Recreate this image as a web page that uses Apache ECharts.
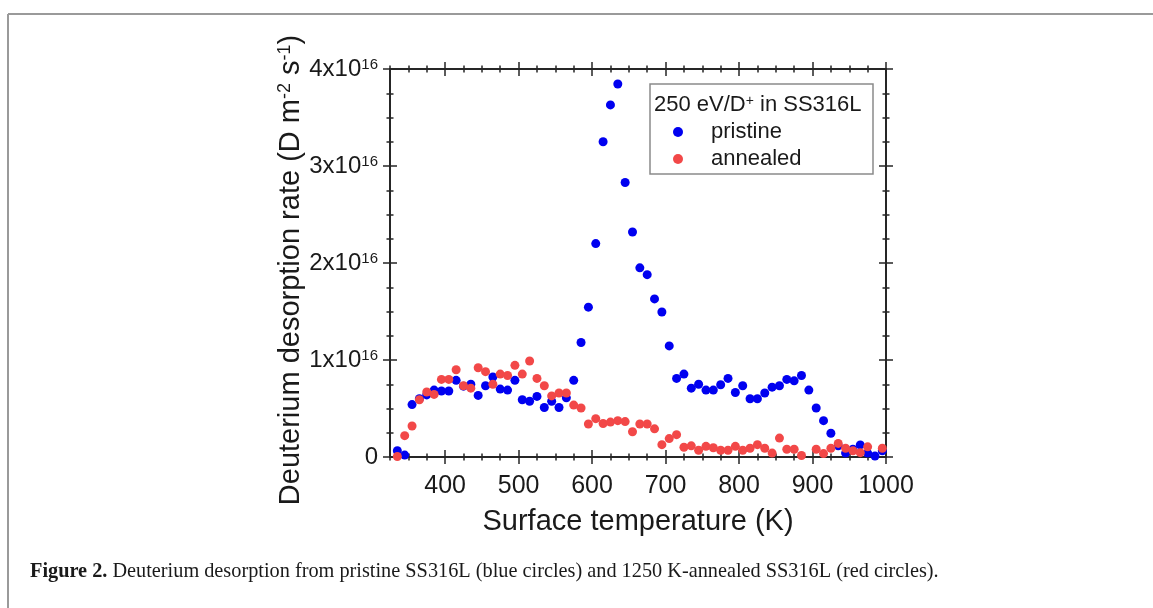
<!DOCTYPE html>
<html>
<head>
<meta charset="utf-8">
<script src="https://cdn.jsdelivr.net/npm/echarts@6/dist/echarts.min.js"></script>
<style>
html,body{margin:0;padding:0;background:#fff;}
#chart{width:1153px;height:608px;}
</style>
</head>
<body>
<div id="chart"></div>
<script>
// Temperatures (K)
const temperatureK = [335,345,355,365,375,385,395,405,415,425,
  435,445,455,465,475,485,495,505,515,525,
  535,545,555,565,575,585,595,605,615,625,
  635,645,655,665,675,685,695,705,715,725,
  735,745,755,765,775,785,795,805,815,825,
  835,845,855,865,875,885,895,905,915,925,
  935,945,955,965,975,985,995];
// Desorption rate, units of 1e16 D m^-2 s^-1
const pristine = [0.065,0.02,0.54,0.60,0.64,0.69,0.68,0.68,0.79,0.73,
  0.75,0.635,0.735,0.825,0.70,0.69,0.79,0.59,0.575,0.625,
  0.51,0.575,0.51,0.61,0.79,1.18,1.545,2.20,3.25,3.63,
  3.845,2.83,2.32,1.95,1.88,1.63,1.495,1.145,0.81,0.855,
  0.71,0.75,0.69,0.69,0.745,0.81,0.665,0.735,0.60,0.60,
  0.66,0.72,0.735,0.80,0.785,0.84,0.69,0.505,0.375,0.245,
  0.115,0.04,0.08,0.125,0.04,0.01,0.065];
const annealed = [0.005,0.22,0.32,0.59,0.67,0.645,0.80,0.80,0.90,0.735,
  0.71,0.92,0.88,0.75,0.855,0.84,0.945,0.855,0.99,0.81,
  0.735,0.63,0.66,0.66,0.535,0.505,0.34,0.395,0.345,0.36,
  0.375,0.365,0.26,0.34,0.34,0.29,0.127,0.19,0.23,0.10,
  0.115,0.07,0.11,0.095,0.07,0.07,0.11,0.07,0.09,0.127,
  0.09,0.04,0.195,0.08,0.08,0.015,null,0.08,0.035,0.09,
  0.14,0.09,0.065,0.045,0.105,null,0.09];
const xMajorTicks = [400,500,600,700,800,900,1000];
const seriesNames = ['pristine','annealed'];
const legendTitle = '250 eV/D{sup|+} in SS316L';
const xTitle = 'Surface temperature (K)';
const yTitle = 'Deuterium desorption rate (D m{sup|-2} s{sup|-1})';
const caption = '{b|Figure 2.} Deuterium desorption from pristine SS316L (blue circles) and 1250 K-annealed SS316L (red circles).';

const X_MIN = 325, X_MAX = 1000, Y_MIN = 0, Y_MAX = 4;
const FONT = 'Liberation Sans, Arial, sans-serif';
const AX = '#262626';

function pairs(ys){ const out=[]; temperatureK.forEach((t,i)=>{ if(ys[i]!==null) out.push([t, ys[i]]); }); return out; }

function xAxis(pos, major, inside, showLabel){
  const a = {type:'value', position:pos, min:X_MIN, max:X_MAX, scale:false,
    axisLine:{show:true, onZero:false, lineStyle:{color:AX, width:2}},
    splitLine:{show:false},
    axisTick:{show:true, inside:inside, length: major?7:3.5, lineStyle:{color:AX, width:1.5}},
    axisLabel:{show:false}};
  if(major){ a.axisTick.customValues = xMajorTicks; }
  else { a.interval = 25; }
  if(showLabel){
    a.axisLabel = {show:true, customValues:xMajorTicks, margin:17, color:'#1a1a1a', fontFamily:FONT, fontSize:25,
      formatter: v => String(v)};
    a.name = xTitle; a.nameLocation='middle'; a.nameGap=50;
    a.nameTextStyle = {color:'#1a1a1a', fontFamily:FONT, fontSize:29};
  }
  return a;
}
function yAxis(pos, major, inside, showLabel){
  const a = {type:'value', position:pos, min:Y_MIN, max:Y_MAX, interval: major?1:0.25,
    axisLine:{show:true, onZero:false, lineStyle:{color:AX, width:2}},
    splitLine:{show:false},
    axisTick:{show:true, inside:inside, length: major?7:3.5, lineStyle:{color:AX, width:1.5}},
    axisLabel:{show:false}};
  if(showLabel){
    a.axisLabel = {show:true, margin:12, color:'#1a1a1a', fontFamily:FONT, fontSize:24,
      formatter: v => v===0 ? '0' : Math.round(v)+'x10{sup|16}',
      rich:{sup:{fontSize:15, fontFamily:FONT, color:'#1a1a1a', verticalAlign:'top', lineHeight:15}}};
    a.name = yTitle; a.nameLocation='middle'; a.nameGap=84;
    a.nameTextStyle = {color:'#1a1a1a', fontFamily:FONT, fontSize:29, padding:[0,14,0,0],
      rich:{sup:{fontSize:18, fontFamily:FONT, color:'#1a1a1a', verticalAlign:'top', lineHeight:18}}};
  }
  return a;
}

const chart = echarts.init(document.getElementById('chart'), null, {renderer:'canvas'});
chart.setOption({
  animation:false,
  backgroundColor:'#fff',
  grid:{left:390, right:267, top:69, bottom:151, containLabel:false},
  xAxis:[
    xAxis('bottom', false, false, false),
    xAxis('bottom', false, true, false),
    xAxis('bottom', true, false, true),
    xAxis('bottom', true, true, false),
    xAxis('top', false, false, false),
    xAxis('top', false, true, false),
    xAxis('top', true, false, false),
    xAxis('top', true, true, false)
  ],
  yAxis:[
    yAxis('left', false, false, false),
    yAxis('left', false, true, false),
    yAxis('left', true, false, true),
    yAxis('left', true, true, false),
    yAxis('right', false, false, false),
    yAxis('right', false, true, false),
    yAxis('right', true, false, false),
    yAxis('right', true, true, false)
  ],
  title:{text:legendTitle, left:654, top:94, padding:0,
    textStyle:{fontFamily:FONT, fontSize:22, fontWeight:'normal', color:'#1a1a1a',
      rich:{sup:{fontSize:14, fontFamily:FONT, color:'#1a1a1a', verticalAlign:'top', lineHeight:14}}}},
  legend:{orient:'vertical', left:673, top:120, padding:0, itemGap:3, itemWidth:10, itemHeight:10,
    icon:'circle', data:seriesNames,
    textStyle:{fontFamily:FONT, fontSize:22, color:'#1a1a1a', lineHeight:24, padding:[0,0,0,23]}},
  graphic:[
    {type:'rect', shape:{x:650, y:84, width:223, height:90}, style:{fill:'none', stroke:'#8a8a8a', lineWidth:1.5}, z:1},
    {type:'line', shape:{x1:8, y1:14, x2:1153, y2:14}, style:{stroke:'#9a9a9a', lineWidth:2}},
    {type:'line', shape:{x1:8, y1:14, x2:8, y2:608}, style:{stroke:'#9a9a9a', lineWidth:2}},
    {type:'text', left:30, top:562, style:{text:caption, fill:'#1a1a1a', font:'20.3px "Liberation Serif", serif',
      rich:{b:{fontWeight:'bold', fontSize:20.3, fontFamily:'Liberation Serif', fill:'#1a1a1a'}}}}
  ],
  series:[
    {name:seriesNames[0], type:'scatter', xAxisIndex:0, yAxisIndex:0, data:pairs(pristine),
      symbol:'circle', symbolSize:9, itemStyle:{color:'#0000f0', opacity:1}},
    {name:seriesNames[1], type:'scatter', xAxisIndex:0, yAxisIndex:0, data:pairs(annealed),
      symbol:'circle', symbolSize:9, itemStyle:{color:'#f24848', opacity:1}}
  ]
});
</script>
</body>
</html>
